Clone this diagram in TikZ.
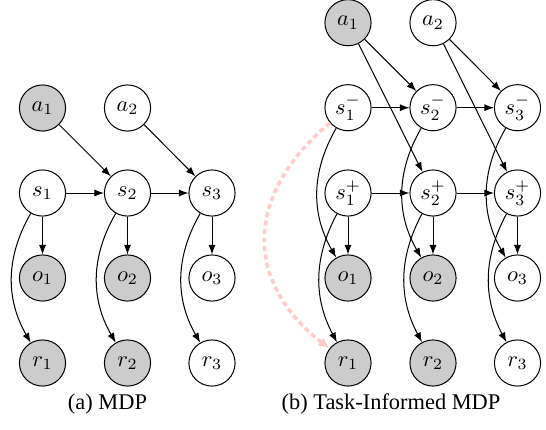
\documentclass[tikz,border=0pt]{standalone}
\usepackage{fontspec}
\newfontfamily\capfont{Liberation Serif}
\usetikzlibrary{arrows.meta}
\begin{document}
\begin{tikzpicture}[x=0.4464pt,y=-0.4464pt,
  var/.style={circle,draw,line width=0.45pt,minimum size=20.6pt,inner sep=0pt},
  obs/.style={var,fill=black!20},
  edge/.style={-{Latex[length=4.3pt,width=3.2pt]},line width=0.45pt},
  pinkedge/.style={draw=red!20,line width=1.6pt,dash pattern=on 2.2pt off 1.6pt,
    -{Latex[length=5pt,width=4.5pt]}},
  captext/.style={font=\capfont\fontsize{10pt}{12pt}\selectfont,inner sep=0pt}]
\useasboundingbox (0,0) rectangle (546,429);
% ---------- (a) MDP ----------
\node[obs] (la1) at (42.5,108) {$a_1$};
\node[var] (la2) at (127.5,108) {$a_2$};
\node[var] (ls1) at (42.5,193) {$s_1$};
\node[var] (ls2) at (127.5,193) {$s_2$};
\node[var] (ls3) at (212,193) {$s_3$};
\node[obs] (lo1) at (42.5,278) {$o_1$};
\node[obs] (lo2) at (127.5,278) {$o_2$};
\node[var] (lo3) at (212,278) {$o_3$};
\node[obs] (lr1) at (42.5,363) {$r_1$};
\node[obs] (lr2) at (127.5,363) {$r_2$};
\node[var] (lr3) at (212,363) {$r_3$};
\draw[edge] (la1) -- (ls2);
\draw[edge] (la2) -- (ls3);
\draw[edge] (ls1) -- (ls2);
\draw[edge] (ls2) -- (ls3);
\foreach \i in {1,2,3}{
  \draw[edge] (ls\i) -- (lo\i);
  \draw[edge] (ls\i) to[bend right=30] (lr\i);
}
\node[captext] (capa) at (107.5,404) {(a) MDP};
% ---------- (b) Task-Informed MDP ----------
\node[obs] (ra1) at (348,22.7) {$a_1$};
\node[var] (ra2) at (433,22.7) {$a_2$};
\node[var] (rsm1) at (348,107.7) {$s_1^-$};
\node[var] (rsm2) at (433,107.7) {$s_2^-$};
\node[var] (rsm3) at (517.5,107.7) {$s_3^-$};
\node[var] (rsp1) at (348,193) {$s_1^+$};
\node[var] (rsp2) at (433,193) {$s_2^+$};
\node[var] (rsp3) at (517.5,193) {$s_3^+$};
\node[obs] (ro1) at (348,278) {$o_1$};
\node[obs] (ro2) at (433,278) {$o_2$};
\node[var] (ro3) at (517.5,278) {$o_3$};
\node[obs] (rr1) at (348,363) {$r_1$};
\node[obs] (rr2) at (433,363) {$r_2$};
\node[var] (rr3) at (517.5,363) {$r_3$};
\draw[pinkedge] (rsm1) to[out=220,in=142,looseness=1.25] (rr1);
\draw[edge] (ra1) -- (rsm2);
\draw[edge] (ra1) -- (rsp2);
\draw[edge] (ra2) -- (rsm3);
\draw[edge] (ra2) -- (rsp3);
\draw[edge] (rsm1) -- (rsm2);
\draw[edge] (rsm2) -- (rsm3);
\draw[edge] (rsp1) -- (rsp2);
\draw[edge] (rsp2) -- (rsp3);
\foreach \i in {1,2,3}{
  \draw[edge] (rsp\i) -- (ro\i);
  \draw[edge] (rsm\i) to[bend right=30] (ro\i);
  \draw[edge] (rsp\i) to[bend right=28] (rr\i);
}
\node[captext] (capb) at (391,404) {(b) Task-Informed MDP};
\end{tikzpicture}
\end{document}
